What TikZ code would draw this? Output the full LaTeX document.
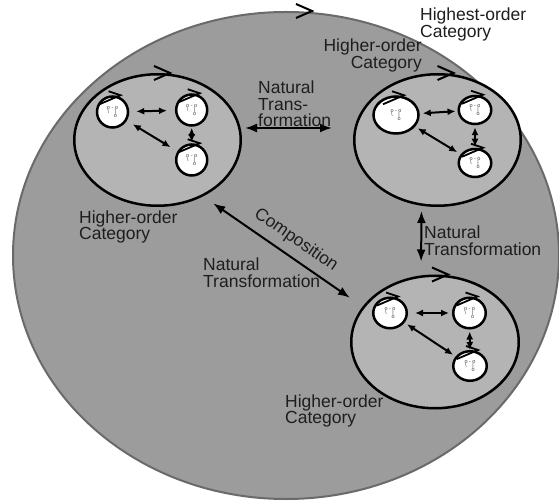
\documentclass[tikz,border=0pt]{standalone}
\usepackage{fontspec}
\setmainfont{Liberation Sans}
\usetikzlibrary{shapes.geometric,arrows.meta}
\definecolor{bigfill}{HTML}{9C9C9C}
\definecolor{bigedge}{HTML}{6A6A6A}
\definecolor{innerfill}{HTML}{B4B4B4}
\definecolor{txt}{HTML}{1E1E1E}
\newcommand\tinygraph{o - o\\[-1pt]\makebox[3pt]{\textbackslash}\hspace{4pt}\makebox[3pt]{|}\\[-1pt]\hspace*{7pt}o}
\begin{document}
\begin{tikzpicture}[x=1pt,y=-1pt,
  lbl/.style={font=\fontsize{17.5}{16.5}\selectfont, text=txt, inner sep=0pt, align=left},
  bigell/.style={ellipse, draw=bigedge, fill=bigfill, line width=2pt, inner sep=0pt},
  innerell/.style={ellipse, draw=black, fill=innerfill, line width=2.5pt, inner sep=0pt},
  cobj/.style={ellipse, draw=black, fill=white, line width=2.5pt, inner sep=0pt,
    font=\fontsize{5.5}{5}\selectfont, align=left, text=black!75},
  sarr/.style={line width=2pt, {Latex[length=8pt,width=7pt]}-{Latex[length=8pt,width=7pt]}},
  barr/.style={line width=2pt, {Latex[length=12pt,width=9pt]}-{Latex[length=12pt,width=9pt]}},
  chev/.pic={\draw[line width=2pt] (-16,-7) -- (0,0) -- (-16,7);},
  idmark/.pic={\draw[line width=1.8pt] (-4,-4) -- (8,0) -- (-13,9);}
]
\useasboundingbox (0,0) rectangle (559,502);
\fill[white] (0,0) rectangle (559,502);

% highest-order category
\node[bigell, minimum width=546, minimum height=487] (big) at (286,255.5) {};
\pic at ([xshift=26pt]big.north) {chev};

% inner categories
\node[innerell, minimum width=166.5, minimum height=131.5] (e1) at (157.5,140) {};
\node[innerell, minimum width=166.5, minimum height=131.5] (e2) at (437.5,140) {};
\node[innerell, minimum width=167.5, minimum height=132.5] (e3) at (435,342) {};
\pic at ([xshift=12.5pt]e1.north) {chev};
\pic at ([xshift=16pt]e2.north) {chev};
\pic at ([xshift=13pt]e3.north) {chev};

% objects, category 1
\node[cobj, minimum width=31, minimum height=31] (a1) at (112.5,112) {\tinygraph};
\node[cobj, minimum width=31, minimum height=31] (b1) at (191.7,110) {\tinygraph};
\node[cobj, minimum width=31, minimum height=31] (c1) at (191.7,160) {\tinygraph};
% objects, category 2
\node[cobj, minimum width=45, minimum height=37] (a2) at (396,115) {\tinygraph};
\node[cobj, minimum width=32.5, minimum height=28] (b2) at (475,110) {\tinygraph};
\node[cobj, minimum width=32.5, minimum height=28] (c2) at (475,163) {\tinygraph};
% objects, category 3
\node[cobj, minimum width=33.5, minimum height=30.5] (a3) at (390,313) {\tinygraph};
\node[cobj, minimum width=32.5, minimum height=30.5] (b3) at (469.5,313) {\tinygraph};
\node[cobj, minimum width=33.5, minimum height=29.5] (c3) at (470,366) {\tinygraph};

\foreach \n in {a1,b1,c1,a2,b2,c2,a3,b3,c3} {\pic at (\n.north) {idmark};}

% morphisms
\draw[sarr, shorten <=7pt, shorten >=8pt] (a1) -- (b1);
\draw[sarr, shorten <=7pt, shorten >=8pt] (a1) -- (c1);
\draw[sarr, shorten <=1pt, shorten >=1pt] (b1) -- (c1);
\draw[sarr, shorten <=3pt, shorten >=2pt] (a2) -- (b2);
\draw[sarr, shorten <=3pt, shorten >=4pt] (a2) -- (c2);
\draw[sarr, shorten <=2pt, shorten >=1pt] (b2) -- (c2);
\draw[sarr, shorten <=7pt, shorten >=3pt] (a3) -- (b3);
\draw[sarr, shorten <=3pt, shorten >=3pt] (a3) -- (c3);
\draw[sarr, shorten <=2pt, shorten >=0pt] (b3) -- (c3);

% natural transformations between categories
\draw[barr, shorten <=3pt, shorten >=21pt] ([yshift=12pt]e1.east) -- ([yshift=12pt]e2.west);
\draw[barr, shorten <=4pt, shorten >=13pt] ([xshift=-16pt]e2.south) -- ([xshift=-14pt]e3.north);
\draw[barr] ([xshift=-4pt,yshift=-16pt]e1.south east) -- ([xshift=-25pt,yshift=-3.5pt]e3.north west);

% labels
\node[lbl, anchor=north west] (lhighest) at (420,8) {Highest-order\\Category};
\node[lbl, anchor=north east, align=right] (lhigh2) at (422,39) {Higher-order\\Category};
\node[lbl, anchor=north west] (lhigh1) at (79,210.5) {Higher-order\\Category};
\node[lbl, anchor=north west] (lhigh3) at (285,394.5) {Higher-order\\Category};
\node[lbl, anchor=north west] (lnt1) at (258,81) {Natural\\Trans-\\formation};
\node[lbl, anchor=north west] (lnt2) at (424,226) {Natural\\Transformation};
\node[lbl, anchor=north west] (lnt3) at (203,258) {Natural\\Transformation};
\node[lbl, rotate=-34.7] (lcomp) at (296,240) {Composition};
\end{tikzpicture}
\end{document}
